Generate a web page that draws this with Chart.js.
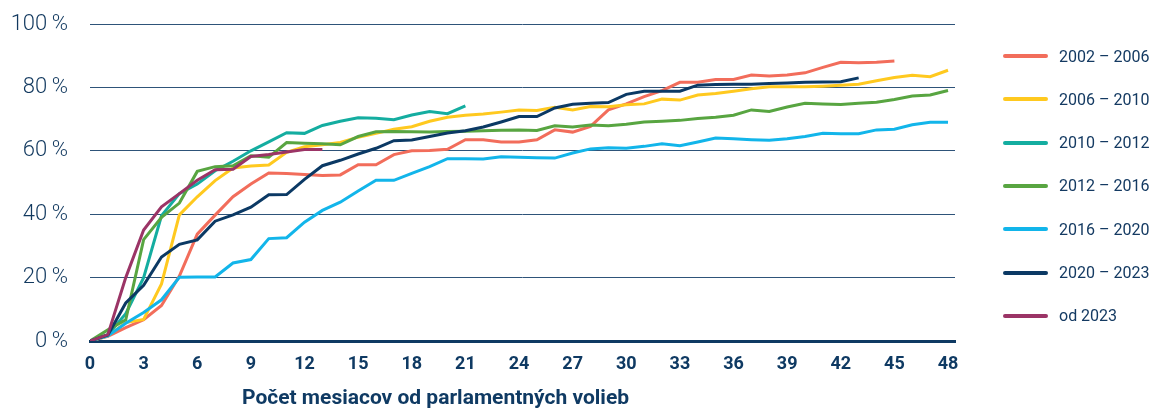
<!DOCTYPE html>
<html>
<head>
<meta charset="utf-8">
<script src="https://cdn.jsdelivr.net/npm/chart.js@4.4.1/dist/chart.umd.min.js"></script>
<style>
  html, body { margin: 0; padding: 0; background: #fff; }
  #wrap { position: relative; width: 1151px; height: 409px; overflow: hidden; }
  #legend { position: absolute; left: 1003px; top: 44px; margin: 0; padding: 0; list-style: none; }
  #legend li { display: flex; align-items: center; height: 24px; margin-bottom: 19.33px; }
  #legend .swatch { width: 45px; height: 4px; border-radius: 2px; }
  #legend .txt { margin-left: 11px; font: 16px Roboto, sans-serif; color: #143a62; white-space: nowrap; }
  #xtitle { position: absolute; left: 242px; top: 385px; font: bold 21px Roboto, sans-serif; line-height: 24px; color: #0f3a63; white-space: nowrap; }
</style>
</head>
<body>
<div id="wrap">
  <canvas id="chart" width="1151" height="409"></canvas>
  <ul id="legend"></ul>
  <div id="xtitle">Počet mesiacov od parlamentných volieb</div>
</div>
<script>
// ------------------------------------------------------------
// data (share by month since the elections, %)
// ------------------------------------------------------------
const periods = ['2002 – 2006', '2006 – 2010', '2010 – 2012', '2012 – 2016', '2016 – 2020', '2020 – 2023', 'od 2023'];
const colors = ['#f26d5b', '#ffc91f', '#14ada0', '#58a541', '#12b5ea', '#0b3964', '#9b3466'];

const s2002 = [0, 1.5, 4.2, 6.7, 11.2, 20.5, 33.7, 39.7, 45.5, 49.5, 53, 52.8, 52.5, 52.2, 52.4, 55.6, 55.6, 58.8, 60, 60.1,
  60.5, 63.5, 63.5, 62.8, 62.8, 63.5, 66.6, 65.9, 67.7, 72.9, 74.8, 77.1, 79, 81.6, 81.6, 82.5, 82.5, 83.9, 83.6, 83.9,
  84.6, 86.3, 87.9, 87.8, 87.9, 88.3];
const s2006 = [0, 1.6, 5.8, 6.8, 18, 39.8, 45.5, 50.6, 54.6, 55.2, 55.5, 59.5, 61.3, 61.9, 62.6, 64.3, 65.5, 66.8, 67.6, 69.3,
  70.6, 71.2, 71.6, 72.2, 72.9, 72.7, 73.7, 72.9, 74, 73.9, 74.5, 74.8, 76.3, 76, 77.6, 78.1, 78.8, 79.6, 80.2, 80.2,
  80.2, 80.4, 80.7, 81, 82.1, 83.1, 83.8, 83.4, 85.4];
const s2010 = [0, 2, 8.6, 20, 39.5, 46.5, 49.5, 53.7, 56.7, 60, 62.8, 65.7, 65.5, 68, 69.3, 70.4, 70.3, 69.8, 71.3, 72.4,
  71.7, 74.2];
const s2012 = [0, 3.5, 6.7, 32, 39, 43.5, 53.5, 55, 55.3, 58.4, 58, 62.6, 62.4, 62.2, 61.9, 64.5, 66, 66.1, 66, 65.9,
  66.1, 66.2, 66.3, 66.5, 66.6, 66.4, 67.9, 67.5, 68.1, 67.9, 68.4, 69.1, 69.3, 69.6, 70.2, 70.6, 71.2, 72.9, 72.4, 73.8,
  75, 74.8, 74.6, 75, 75.3, 76.2, 77.3, 77.6, 79];
const s2016 = [0, 1.6, 5.6, 9, 13, 20.1, 20.2, 20.2, 24.6, 25.7, 32.3, 32.6, 37.5, 41.2, 43.8, 47.3, 50.7, 50.7, 52.9, 55,
  57.5, 57.5, 57.4, 58.1, 58, 57.8, 57.7, 59.3, 60.6, 61, 60.8, 61.4, 62.2, 61.6, 62.8, 64, 63.8, 63.5, 63.3, 63.8,
  64.5, 65.5, 65.4, 65.4, 66.6, 66.8, 68.2, 69, 69];
const s2020 = [0, 1.9, 12, 17.6, 26.5, 30.5, 31.9, 37.8, 39.8, 42.2, 46.1, 46.2, 51, 55.3, 57, 59, 60.8, 63.2, 63.4, 64.5,
  65.6, 66.3, 67.5, 69.1, 70.8, 70.8, 73.5, 74.7, 75, 75.2, 77.8, 78.8, 78.8, 78.8, 80.7, 80.9, 81, 81, 81.2, 81.4,
  81.6, 81.7, 81.8, 83];
const s2023 = [0, 2, 20, 35, 42.3, 46.5, 50.7, 54, 54.2, 58.2, 58.8, 59.6, 60.4, 60.4];

const seriesValues = [s2002, s2006, s2010, s2012, s2016, s2020, s2023];
const yTicks = [0, 20, 40, 60, 80, 100];
const monthStep = 3;
const lastMonth = 48;

// ------------------------------------------------------------
const navy = '#0f3a63';
const tickColor = '#12395f';

const datasets = seriesValues.map((vals, i) => ({
  label: periods[i],
  data: vals.map((v, m) => ({ x: m, y: v })),
  borderColor: colors[i],
  backgroundColor: colors[i],
  borderWidth: 3,
  pointRadius: 0,
  tension: 0,
  fill: false,
  order: seriesValues.length - 1 - i,
}));

// html legend, built from the chart's own datasets
const htmlLegend = {
  id: 'htmlLegend',
  afterUpdate(chart) {
    const ul = document.getElementById('legend');
    ul.innerHTML = '';
    chart.data.datasets.forEach((ds) => {
      const li = document.createElement('li');
      const sw = document.createElement('span');
      sw.className = 'swatch';
      sw.style.background = ds.borderColor;
      const tx = document.createElement('span');
      tx.className = 'txt';
      tx.textContent = ds.label;
      li.appendChild(sw);
      li.appendChild(tx);
      ul.appendChild(li);
    });
  },
};

new Chart(document.getElementById('chart'), {
  type: 'line',
  data: { datasets },
  plugins: [htmlLegend],
  options: {
    responsive: false,
    animation: false,
    devicePixelRatio: 1,
    layout: { padding: { top: 24, right: 196, bottom: 0, left: 0 } },
    plugins: {
      legend: { display: false },
      tooltip: { enabled: false },
    },
    scales: {
      x: {
        type: 'linear',
        min: 0,
        max: 48.39,
        afterFit: (s) => { s.height = 68; s.paddingLeft = 0; s.paddingRight = 0; },
        grid: { display: false, drawTicks: false },
        border: { display: true, color: navy, width: 3 },
        ticks: {
          stepSize: monthStep,
          includeBounds: false,
          autoSkip: false,
          maxRotation: 0,
          padding: 13,
          color: navy,
          font: { family: 'Roboto, sans-serif', size: 18, weight: 'bold' },
          callback: (v) => (v <= lastMonth ? String(v) : ''),
        },
      },
      y: {
        min: yTicks[0],
        max: yTicks[yTicks.length - 1],
        afterFit: (s) => { s.width = 90; s.paddingTop = 0; s.paddingBottom = 0; },
        afterBuildTicks: (s) => { s.ticks = yTicks.map((v) => ({ value: v })); },
        grid: { color: '#2e5379', lineWidth: 1, drawTicks: false },
        border: { display: false },
        ticks: {
          padding: 22,
          color: tickColor,
          font: { family: 'Roboto, sans-serif', size: 22, weight: '300' },
          callback: (v) => v + '\u2009%',
        },
      },
    },
  },
});
</script>
</body>
</html>
